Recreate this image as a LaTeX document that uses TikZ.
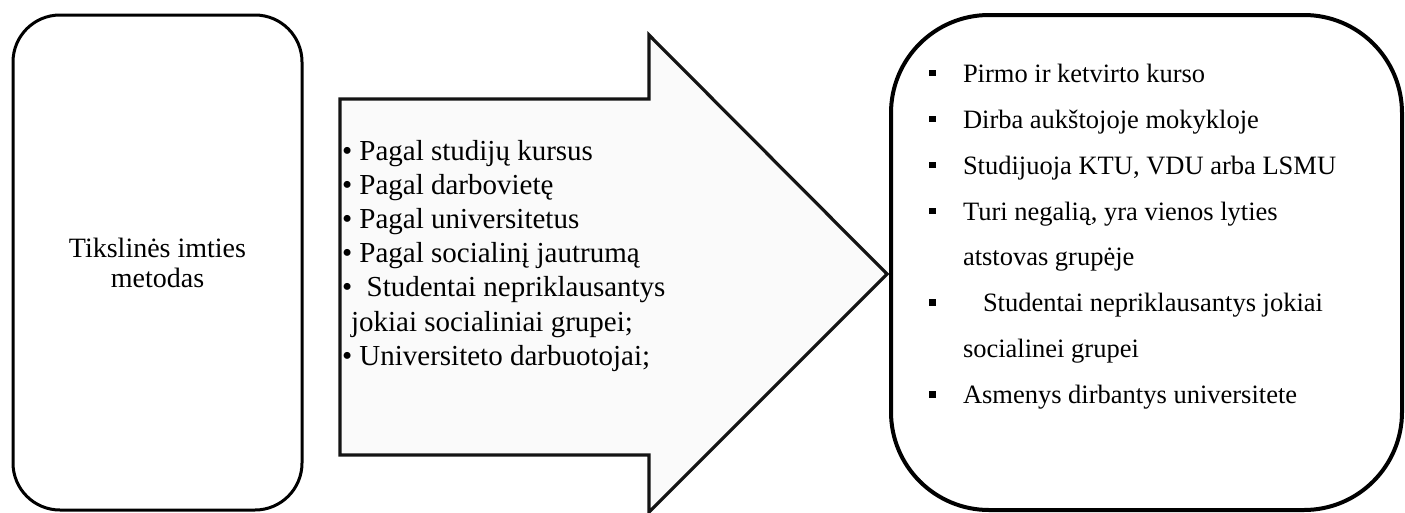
\documentclass[tikz,border=0pt]{standalone}
\usepackage{fontspec}
\setmainfont{Liberation Serif}
\usetikzlibrary{positioning}
\definecolor{arrowline}{RGB}{20,20,20}
\definecolor{arrowfill}{RGB}{250,250,250}
\newcommand{\sqbul}{\rule[6pt]{6.5pt}{6.5pt}}

\begin{document}
\begin{tikzpicture}[x=1pt, y=-1pt, every node/.style={inner sep=0pt, outer sep=0pt}]
\useasboundingbox (0,0) rectangle (1405,512);

\node[draw=black, line width=3pt, rounded corners=47pt, minimum width=289pt, minimum height=495pt, align=center, font=\fontsize{28}{30}\selectfont] (method) at (157.5,262.5) {Tikslinės imties\\metodas};

\draw[draw=arrowline, line width=3.2pt, fill=arrowfill, line join=miter] (340,99) -- (649,99) -- (649,35) -- (887,274) -- (649,512) -- (649,455) -- (340,455) -- cycle;

\node[anchor=north west, align=left, font=\fontsize{29}{34.2}\selectfont] (groups) at (342,140) {• Pagal studijų kursus\\• Pagal darbovietę\\• Pagal universitetus\\• Pagal socialinį jautrumą\\•\ \ Studentai nepriklausantys\\\hspace*{9pt}jokiai socialiniai grupei;\\• Universiteto darbuotojai;};

\node[draw=black, line width=4pt, rounded corners=98pt, minimum width=511pt, minimum height=495pt] (criteria) at (1146.5,262.5) {};

\node[anchor=north west, align=left, font=\fontsize{26.5}{45.9}\selectfont] (criterialist) at (929,64) {\makebox[34pt][l]{\sqbul}Pirmo ir ketvirto kurso\\\makebox[34pt][l]{\sqbul}Dirba aukštojoje mokykloje\\\makebox[34pt][l]{\sqbul}Studijuoja KTU, VDU arba LSMU\\\makebox[34pt][l]{\sqbul}Turi negalią, yra vienos lyties\\\hspace*{34pt}atstovas grupėje\\\makebox[54pt][l]{\sqbul}Studentai nepriklausantys jokiai\\\hspace*{34pt}socialinei grupei\\\makebox[34pt][l]{\sqbul}Asmenys dirbantys universitete};
\end{tikzpicture}
\end{document}
